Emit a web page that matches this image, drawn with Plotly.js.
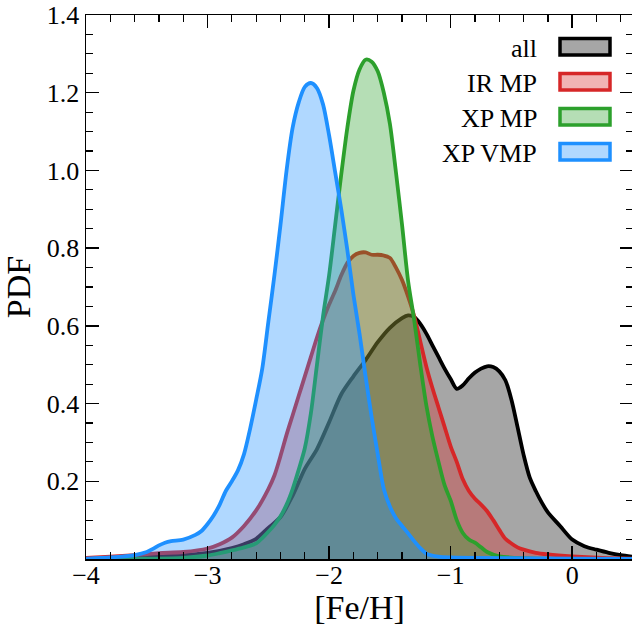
<!DOCTYPE html>
<html>
<head>
<meta charset="utf-8">
<script src="https://cdn.plot.ly/plotly-3.0.1.min.js"></script>
<style>
  html, body { margin: 0; padding: 0; overflow: hidden; background: #fff; }
  #chart { width: 634px; height: 626px; }
</style>
</head>
<body>
<div id="chart"></div>
<script>
// Metallicity distributions (kernel density estimates) for each sample
const seriesNames = ['all', 'IR MP', 'XP MP', 'XP VMP'];

const feAll = [-4.0, -3.6, -3.4, -3.2, -3.0, -2.9, -2.8, -2.7, -2.6, -2.5, -2.4, -2.3, -2.2, -2.1, -2.0, -1.9, -1.8, -1.7, -1.6, -1.5, -1.4, -1.35, -1.3, -1.25, -1.2, -1.15, -1.1, -1.05, -1.0, -0.95, -0.9, -0.85, -0.8, -0.75, -0.7, -0.65, -0.6, -0.55, -0.5, -0.45, -0.4, -0.35, -0.3, -0.25, -0.2, -0.1, 0.0, 0.1, 0.2, 0.3, 0.4, 0.5];
const pdfAll = [0.001, 0.004, 0.007, 0.010, 0.016, 0.021, 0.028, 0.038, 0.052, 0.080, 0.108, 0.163, 0.232, 0.283, 0.352, 0.424, 0.470, 0.512, 0.558, 0.595, 0.620, 0.627, 0.623, 0.605, 0.580, 0.550, 0.520, 0.490, 0.463, 0.438, 0.447, 0.465, 0.480, 0.490, 0.496, 0.494, 0.483, 0.460, 0.410, 0.340, 0.268, 0.210, 0.175, 0.145, 0.120, 0.085, 0.050, 0.033, 0.024, 0.016, 0.010, 0.006];

const feIR = [-4.0, -3.8, -3.6, -3.4, -3.2, -3.0, -2.9, -2.8, -2.7, -2.6, -2.5, -2.45, -2.4, -2.35, -2.3, -2.25, -2.2, -2.15, -2.1, -2.05, -2.0, -1.95, -1.9, -1.85, -1.8, -1.75, -1.7, -1.65, -1.6, -1.55, -1.5, -1.45, -1.4, -1.35, -1.3, -1.25, -1.2, -1.15, -1.1, -1.05, -1.0, -0.95, -0.9, -0.85, -0.8, -0.75, -0.7, -0.65, -0.6, -0.55, -0.5, -0.45, -0.4, -0.3, -0.2, 0.0, 0.25, 0.5];
const pdfIR = [0.003, 0.006, 0.010, 0.015, 0.018, 0.027, 0.038, 0.055, 0.085, 0.125, 0.180, 0.215, 0.265, 0.320, 0.370, 0.420, 0.470, 0.520, 0.570, 0.615, 0.655, 0.690, 0.730, 0.762, 0.780, 0.788, 0.789, 0.783, 0.783, 0.781, 0.775, 0.750, 0.718, 0.675, 0.625, 0.560, 0.495, 0.440, 0.390, 0.340, 0.290, 0.250, 0.205, 0.175, 0.155, 0.140, 0.123, 0.100, 0.075, 0.052, 0.040, 0.030, 0.024, 0.016, 0.012, 0.007, 0.003, 0.001];

const feXPMP = [-4.0, -3.5, -3.2, -3.0, -2.9, -2.8, -2.7, -2.6, -2.55, -2.5, -2.45, -2.4, -2.35, -2.3, -2.25, -2.2, -2.15, -2.1, -2.05, -2.0, -1.95, -1.9, -1.85, -1.8, -1.75, -1.7, -1.65, -1.6, -1.55, -1.5, -1.45, -1.4, -1.35, -1.3, -1.25, -1.2, -1.15, -1.1, -1.05, -1.0, -0.95, -0.9, -0.85, -0.8, -0.75, -0.7, -0.6, -0.4, 0.0, 0.5];
const pdfXPMP = [0.000, 0.001, 0.003, 0.009, 0.015, 0.022, 0.030, 0.040, 0.054, 0.070, 0.088, 0.110, 0.140, 0.180, 0.230, 0.285, 0.375, 0.500, 0.625, 0.730, 0.860, 0.990, 1.110, 1.205, 1.260, 1.285, 1.280, 1.255, 1.200, 1.120, 0.995, 0.860, 0.715, 0.615, 0.500, 0.395, 0.315, 0.250, 0.190, 0.150, 0.100, 0.067, 0.050, 0.042, 0.030, 0.018, 0.007, 0.002, 0.000, 0.000];

const feVMP = [-4.0, -3.8, -3.6, -3.5, -3.45, -3.4, -3.35, -3.3, -3.2, -3.1, -3.05, -3.0, -2.95, -2.9, -2.85, -2.8, -2.75, -2.7, -2.65, -2.6, -2.55, -2.5, -2.45, -2.4, -2.35, -2.3, -2.25, -2.2, -2.15, -2.1, -2.05, -2.0, -1.95, -1.9, -1.85, -1.8, -1.75, -1.7, -1.65, -1.6, -1.55, -1.5, -1.45, -1.4, -1.35, -1.3, -1.25, -1.2, -1.1, -1.0, -0.5, 0.0, 0.5];
const pdfVMP = [0.001, 0.004, 0.010, 0.018, 0.026, 0.035, 0.042, 0.046, 0.050, 0.062, 0.072, 0.090, 0.112, 0.140, 0.175, 0.200, 0.228, 0.270, 0.335, 0.410, 0.490, 0.610, 0.730, 0.860, 1.000, 1.110, 1.175, 1.215, 1.225, 1.212, 1.170, 1.090, 0.995, 0.900, 0.795, 0.680, 0.580, 0.470, 0.365, 0.270, 0.180, 0.135, 0.105, 0.085, 0.066, 0.046, 0.028, 0.014, 0.006, 0.004, 0.002, 0.001, 0.0005];

const xTickVals = [-4, -3, -2, -1, 0];
const xTickText = ['\u22124', '\u22123', '\u22122', '\u22121', '0'];
const yTickVals = [0.2, 0.4, 0.6, 0.8, 1.0, 1.2, 1.4];
const yTickText = ['0.2', '0.4', '0.6', '0.8', '1.0', '1.2', '1.4'];

const lineColors = ['#000000', '#d62728', '#2ca02c', '#1e90ff'];
const fillAlpha = 0.35;

function rgba(hex, a) {
  const n = parseInt(hex.slice(1), 16);
  return `rgba(${(n >> 16) & 255},${(n >> 8) & 255},${n & 255},${a})`;
}

const xs = [feAll, feIR, feXPMP, feVMP];
const ys = [pdfAll, pdfIR, pdfXPMP, pdfVMP];

const traces = seriesNames.map((name, i) => ({
  type: 'scatter',
  mode: 'lines',
  name: name,
  x: xs[i],
  y: ys[i],
  fill: 'tozeroy',
  fillcolor: rgba(lineColors[i], fillAlpha),
  line: { color: lineColors[i], width: 3.8, shape: 'spline', smoothing: 0.8 },
  showlegend: false,
  hoverinfo: 'skip'
}));

const font = 'Liberation Serif, Times New Roman, serif';

// Plot-area geometry in pixels (used to place the legend block)
const W = 634, H = 626;
const M = { l: 86, r: 1, t: 15, b: 67 };
const pw = W - M.l - M.r, ph = H - M.t - M.b;
const px = v => (v - M.l) / pw;
const py = v => (H - M.b - v) / ph;

const shapes = [];
const annotations = [];
seriesNames.forEach((name, i) => {
  const cy = 46.7 + 35 * i;
  shapes.push({
    type: 'rect', xref: 'paper', yref: 'paper',
    x0: px(560), x1: px(610), y0: py(cy + 8.3), y1: py(cy - 8.3),
    line: { color: lineColors[i], width: 3.5 },
    fillcolor: rgba(lineColors[i], fillAlpha),
    layer: 'above'
  });
  annotations.push({
    xref: 'paper', yref: 'paper',
    x: px(539), y: py(cy + 1.5),
    xanchor: 'right', yanchor: 'middle',
    text: name, showarrow: false,
    font: { family: font, size: 26, color: '#000' }
  });
});

const axisCommon = {
  showgrid: false, zeroline: false,
  showline: true, linecolor: '#000', linewidth: 1.5,
  mirror: 'allticks',
  ticks: 'inside', ticklen: 13, tickwidth: 1.5, tickcolor: '#000',
  tickfont: { family: font, size: 26, color: '#000' },
  fixedrange: true
};

const layout = {
  width: W, height: H,
  margin: M,
  paper_bgcolor: '#fff', plot_bgcolor: '#fff',
  showlegend: false,
  xaxis: Object.assign({}, axisCommon, {
    range: [-4, 0.5],
    tickmode: 'array', tickvals: xTickVals, ticktext: xTickText,
    ticklabelstandoff: -8,
    minor: { dtick: 0.2, tick0: 0, ticks: 'inside', ticklen: 7, tickwidth: 1.2, tickcolor: '#000' },
    title: { text: '[Fe/H]', font: { family: font, size: 34, color: '#000' }, standoff: 4 }
  }),
  yaxis: Object.assign({}, axisCommon, {
    range: [0, 1.4],
    tickmode: 'array', tickvals: yTickVals, ticktext: yTickText,
    minor: { dtick: 0.05, tick0: 0, ticks: 'inside', ticklen: 7, tickwidth: 1.2, tickcolor: '#000' },
    title: { text: 'PDF', font: { family: font, size: 34, color: '#000' }, standoff: 10 }
  }),
  shapes: shapes,
  annotations: annotations
};

Plotly.newPlot('chart', traces, layout, { staticPlot: true, displayModeBar: false });
</script>
</body>
</html>
